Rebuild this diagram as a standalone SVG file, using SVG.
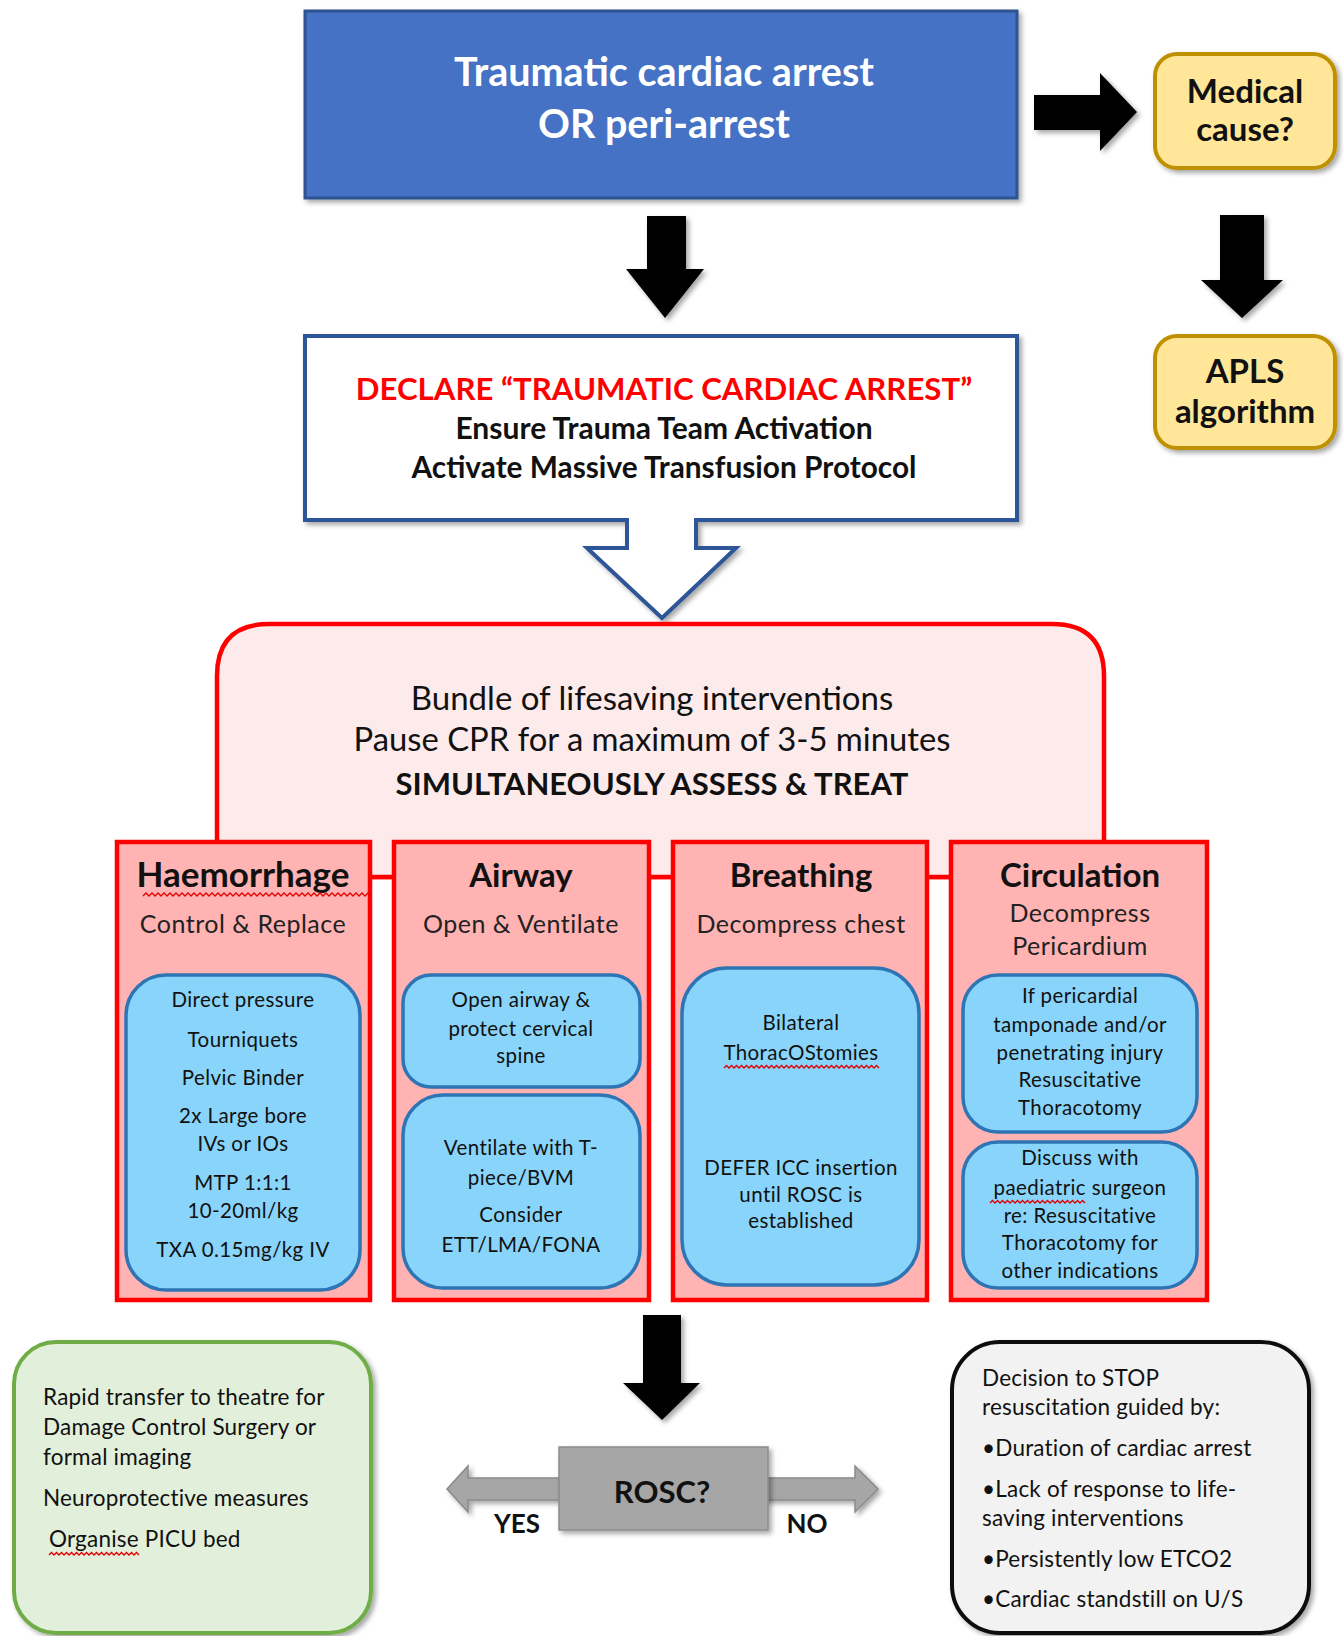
<svg xmlns="http://www.w3.org/2000/svg" width="1343" height="1636" viewBox="0 0 1343 1636">
<defs>
<filter id="sh" x="-10%" y="-10%" width="130%" height="130%">
<feDropShadow dx="3" dy="3" stdDeviation="2.5" flood-color="#000" flood-opacity="0.35"/>
</filter>
<style>
text{font-family:Lato,"Open Sans","Liberation Sans",sans-serif;text-anchor:middle;fill:#111}
.b{font-weight:bold}
.title{font-size:39.5px;font-weight:bold;fill:#fff}
.yel{fill:#FFE699;stroke:#BF9000;stroke-width:4}
.ytx{font-size:33px;font-weight:bold}
.col{fill:#FFB3B3;stroke:#FF0000;stroke-width:4.5}
.hd{font-size:33px;font-weight:bold}
.sub{font-size:25px;letter-spacing:0.5px;fill:#222}
.in{fill:#89D4FA;stroke:#2E75B6;stroke-width:3.5}
.it{font-size:20.5px;letter-spacing:0.4px}
.bl{font-size:22.5px;text-anchor:start;letter-spacing:0.2px}
.arr{fill:#000}
.sq{fill:none;stroke:#E00000;stroke-width:1.3}
</style>
</defs>

<g id="connectors">
<path class="arr" d="M1034,95 H1100 V73 L1137,112 L1100,151 V130 H1034 Z" filter="url(#sh)"/>
<path class="arr" d="M647,216 H686 V269 H704 L665,318 L626,269 H647 Z" filter="url(#sh)"/>
<path class="arr" d="M1220,215 H1264 V280 H1283 L1242,318 L1201,280 H1220 Z" filter="url(#sh)"/>
<path class="arr" d="M643,1315 H681 V1383 H700 L662,1420 L623,1383 H643 Z" filter="url(#sh)"/>
<path d="M447,1489 L468,1466 V1478 H855 V1466 L878,1489 L855,1512 V1500 H468 V1512 Z" fill="#A6A6A6" stroke="#8A8A8A" stroke-width="1.5" filter="url(#sh)"/>
<line x1="370" y1="877" x2="394" y2="877" stroke="#FF0000" stroke-width="4.5"/>
<line x1="649" y1="877" x2="673" y2="877" stroke="#FF0000" stroke-width="4.5"/>
<line x1="927" y1="877" x2="951" y2="877" stroke="#FF0000" stroke-width="4.5"/>
</g>

<g id="n-trauma">
<rect x="305" y="11" width="712" height="187" fill="#4472C4" stroke="#2F528F" stroke-width="3" filter="url(#sh)"/>
<text class="title" x="664" y="86">Traumatic cardiac arrest</text>
<text class="title" x="664" y="138">OR peri-arrest</text>
</g>

<g id="n-medical">
<rect class="yel" x="1155" y="54" width="180" height="114" rx="22" filter="url(#sh)"/>
<text class="ytx" x="1245" y="103">Medical</text>
<text class="ytx" x="1245" y="141">cause?</text>
</g>

<g id="n-apls">
<rect class="yel" x="1155" y="336" width="180" height="112" rx="22" filter="url(#sh)"/>
<text class="ytx" x="1245" y="383">APLS</text>
<text class="ytx" x="1245" y="423">algorithm</text>
</g>

<g id="n-declare">
<path d="M305,336 H1017 V520 H696 V548 H736 L662,618 L587,548 H627 V520 H305 Z" fill="#fff" stroke="#2F5597" stroke-width="4" stroke-linejoin="miter" filter="url(#sh)"/>
<text class="b" x="664" y="400" style="font-size:31.2px;fill:#FF0000">DECLARE “TRAUMATIC CARDIAC ARREST”</text>
<text class="b" x="664" y="439" style="font-size:30px">Ensure Trauma Team Activation</text>
<text class="b" x="664" y="478" style="font-size:29.8px">Activate Massive Transfusion Protocol</text>
</g>

<g id="n-bundle">
<path d="M217,877 V676 Q217,624 269,624 H1052 Q1104,624 1104,676 V877 Z" fill="#FDEBEB" stroke="#FF0000" stroke-width="4.5"/>
<text x="652" y="710" style="font-size:33px">Bundle of lifesaving interventions</text>
<text x="652" y="751" style="font-size:32.8px">Pause CPR for a maximum of 3-5 minutes</text>
<text class="b" x="652" y="795" style="font-size:31px">SIMULTANEOUSLY ASSESS &amp; TREAT</text>
</g>

<g id="n-haemorrhage">
<rect class="col" x="117" y="842" width="253" height="458"/>
<text class="hd" x="243" y="887" style="font-size:35px">Haemorrhage</text>
<path class="sq" d="M143,896 l3,-3 l3,3 l3,-3 l3,3 l3,-3 l3,3 l3,-3 l3,3 l3,-3 l3,3 l3,-3 l3,3 l3,-3 l3,3 l3,-3 l3,3 l3,-3 l3,3 l3,-3 l3,3 l3,-3 l3,3 l3,-3 l3,3 l3,-3 l3,3 l3,-3 l3,3 l3,-3 l3,3 l3,-3 l3,3 l3,-3 l3,3 l3,-3 l3,3 l3,-3 l3,3 l3,-3 l3,3 l3,-3 l3,3 l3,-3 l3,3 l3,-3 l3,3 l3,-3 l3,3 l3,-3 l3,3 l3,-3 l3,3 l3,-3 l3,3 l3,-3 l3,3 l3,-3 l3,3 l3,-3 l3,3 l3,-3 l3,3 l3,-3 l3,3 l3,-3 l3,3 l3,-3 l3,3 l3,-3 l3,3 l3,-3 l3,3 l3,-3 l3,3 l3,-3 l3,3"/>
<text class="sub" x="243" y="933">Control &amp; Replace</text>
<rect class="in" x="126" y="975" width="234" height="315" rx="40"/>
<text class="it" x="243" y="1007">Direct pressure</text>
<text class="it" x="243" y="1047">Tourniquets</text>
<text class="it" x="243" y="1085">Pelvic Binder</text>
<text class="it" x="243" y="1123">2x Large bore</text>
<text class="it" x="243" y="1151">IVs or IOs</text>
<text class="it" x="243" y="1190">MTP 1:1:1</text>
<text class="it" x="243" y="1218">10-20ml/kg</text>
<text class="it" x="243" y="1257">TXA 0.15mg/kg IV</text>
</g>

<g id="n-airway">
<rect class="col" x="394" y="842" width="255" height="458"/>
<text class="hd" x="521" y="887">Airway</text>
<text class="sub" x="521" y="933">Open &amp; Ventilate</text>
<rect class="in" x="403" y="975" width="237" height="112" rx="28"/>
<text class="it" x="521" y="1007">Open airway &amp;</text>
<text class="it" x="521" y="1036">protect cervical</text>
<text class="it" x="521" y="1063">spine</text>
<rect class="in" x="403" y="1095" width="237" height="193" rx="40"/>
<text class="it" x="521" y="1155">Ventilate with T-</text>
<text class="it" x="521" y="1185">piece/BVM</text>
<text class="it" x="521" y="1222">Consider</text>
<text class="it" x="521" y="1252">ETT/LMA/FONA</text>
</g>

<g id="n-breathing">
<rect class="col" x="673" y="842" width="254" height="458"/>
<text class="hd" x="801" y="887">Breathing</text>
<text class="sub" x="801" y="933">Decompress chest</text>
<rect class="in" x="682" y="968" width="237" height="317" rx="45"/>
<text class="it" x="801" y="1030">Bilateral</text>
<text class="it" x="801" y="1060">ThoracOStomies</text>
<path class="sq" d="M724,1068 l2.5,-2.5 l2.5,2.5 l2.5,-2.5 l2.5,2.5 l2.5,-2.5 l2.5,2.5 l2.5,-2.5 l2.5,2.5 l2.5,-2.5 l2.5,2.5 l2.5,-2.5 l2.5,2.5 l2.5,-2.5 l2.5,2.5 l2.5,-2.5 l2.5,2.5 l2.5,-2.5 l2.5,2.5 l2.5,-2.5 l2.5,2.5 l2.5,-2.5 l2.5,2.5 l2.5,-2.5 l2.5,2.5 l2.5,-2.5 l2.5,2.5 l2.5,-2.5 l2.5,2.5 l2.5,-2.5 l2.5,2.5 l2.5,-2.5 l2.5,2.5 l2.5,-2.5 l2.5,2.5 l2.5,-2.5 l2.5,2.5 l2.5,-2.5 l2.5,2.5 l2.5,-2.5 l2.5,2.5 l2.5,-2.5 l2.5,2.5 l2.5,-2.5 l2.5,2.5 l2.5,-2.5 l2.5,2.5 l2.5,-2.5 l2.5,2.5 l2.5,-2.5 l2.5,2.5 l2.5,-2.5 l2.5,2.5 l2.5,-2.5 l2.5,2.5 l2.5,-2.5 l2.5,2.5 l2.5,-2.5 l2.5,2.5 l2.5,-2.5 l2.5,2.5 l2.5,-2.5 l2.5,2.5"/>
<text class="it" x="801" y="1175">DEFER ICC insertion</text>
<text class="it" x="801" y="1202">until ROSC is</text>
<text class="it" x="801" y="1228">established</text>
</g>

<g id="n-circulation">
<rect class="col" x="951" y="842" width="256" height="458"/>
<text class="hd" x="1080" y="887">Circulation</text>
<text class="sub" x="1080" y="922">Decompress</text>
<text class="sub" x="1080" y="955">Pericardium</text>
<rect class="in" x="963" y="975" width="234" height="157" rx="35"/>
<text class="it" x="1080" y="1003">If pericardial</text>
<text class="it" x="1080" y="1032">tamponade and/or</text>
<text class="it" x="1080" y="1060">penetrating injury</text>
<text class="it" x="1080" y="1087">Resuscitative</text>
<text class="it" x="1080" y="1115">Thoracotomy</text>
<rect class="in" x="963" y="1142" width="234" height="146" rx="35"/>
<text class="it" x="1080" y="1165">Discuss with</text>
<text class="it" x="1080" y="1195">paediatric surgeon</text>
<path class="sq" d="M990,1203 l2.5,-2.5 l2.5,2.5 l2.5,-2.5 l2.5,2.5 l2.5,-2.5 l2.5,2.5 l2.5,-2.5 l2.5,2.5 l2.5,-2.5 l2.5,2.5 l2.5,-2.5 l2.5,2.5 l2.5,-2.5 l2.5,2.5 l2.5,-2.5 l2.5,2.5 l2.5,-2.5 l2.5,2.5 l2.5,-2.5 l2.5,2.5 l2.5,-2.5 l2.5,2.5 l2.5,-2.5 l2.5,2.5 l2.5,-2.5 l2.5,2.5 l2.5,-2.5 l2.5,2.5 l2.5,-2.5 l2.5,2.5 l2.5,-2.5 l2.5,2.5 l2.5,-2.5 l2.5,2.5 l2.5,-2.5 l2.5,2.5 l2.5,-2.5 l2.5,2.5"/>
<text class="it" x="1080" y="1223">re: Resuscitative</text>
<text class="it" x="1080" y="1250">Thoracotomy for</text>
<text class="it" x="1080" y="1278">other indications</text>
</g>

<g id="n-rosc">
<rect x="559" y="1447" width="209" height="83" fill="#A6A6A6" stroke="#8C8C8C" stroke-width="1.5" filter="url(#sh)"/>
<text class="b" x="662" y="1503" style="font-size:31px">ROSC?</text>
<text class="b" x="517" y="1533" style="font-size:26px">YES</text>
<text class="b" x="807" y="1533" style="font-size:26px">NO</text>
</g>

<g id="n-yes">
<rect x="14" y="1342" width="357" height="291" rx="42" fill="#E2EFDA" stroke="#70AD47" stroke-width="4" filter="url(#sh)"/>
<text class="bl" x="43" y="1405">Rapid transfer to theatre for</text>
<text class="bl" x="43" y="1435">Damage Control Surgery or</text>
<text class="bl" x="43" y="1465">formal imaging</text>
<text class="bl" x="43" y="1506">Neuroprotective measures</text>
<text class="bl" x="49" y="1547">Organise PICU bed</text>
<path class="sq" d="M49,1555 l2.5,-2.5 l2.5,2.5 l2.5,-2.5 l2.5,2.5 l2.5,-2.5 l2.5,2.5 l2.5,-2.5 l2.5,2.5 l2.5,-2.5 l2.5,2.5 l2.5,-2.5 l2.5,2.5 l2.5,-2.5 l2.5,2.5 l2.5,-2.5 l2.5,2.5 l2.5,-2.5 l2.5,2.5 l2.5,-2.5 l2.5,2.5 l2.5,-2.5 l2.5,2.5 l2.5,-2.5 l2.5,2.5 l2.5,-2.5 l2.5,2.5 l2.5,-2.5 l2.5,2.5 l2.5,-2.5 l2.5,2.5 l2.5,-2.5 l2.5,2.5 l2.5,-2.5 l2.5,2.5 l2.5,-2.5 l2.5,2.5"/>
</g>

<g id="n-no">
<rect x="952" y="1342" width="357" height="291" rx="48" fill="#F2F2F2" stroke="#111" stroke-width="4" filter="url(#sh)"/>
<text class="bl" x="982" y="1386">Decision to STOP</text>
<text class="bl" x="982" y="1415">resuscitation guided by:</text>
<text class="bl" x="982" y="1456">•Duration of cardiac arrest</text>
<text class="bl" x="982" y="1497">•Lack of response to life-</text>
<text class="bl" x="982" y="1526">saving interventions</text>
<text class="bl" x="982" y="1567">•Persistently low ETCO2</text>
<text class="bl" x="982" y="1607">•Cardiac standstill on U/S</text>
</g>
</svg>
